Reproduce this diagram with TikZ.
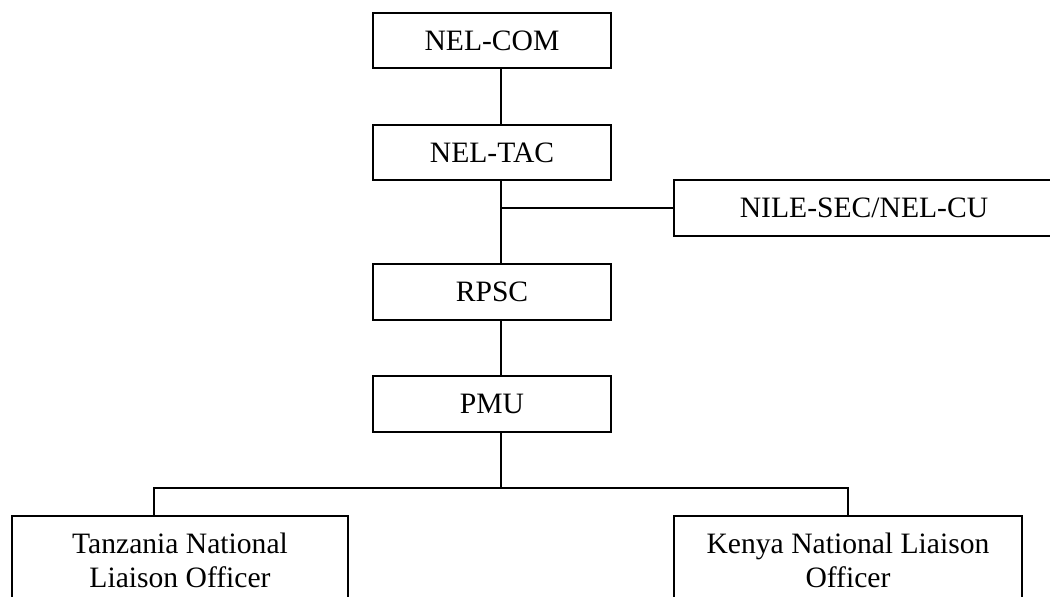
\documentclass[tikz,border=0pt]{standalone}
\usepackage{fontspec}
\setmainfont{Liberation Serif}
\begin{document}
\begin{tikzpicture}[x=1pt,y=-1pt,
  ln/.style={line width=1.7pt, black},
  box/.style={draw, ln, rectangle, inner sep=0pt, font=\fontsize{29.6}{34}\selectfont, align=center},
  mid/.style={box, minimum width=238pt, minimum height=55pt}]
\clip (0,0) rectangle (1050,597);
\fill[white] (0,0) rectangle (1050,597);
\node[mid] (com) at (492,40.5) {NEL-COM};
\node[mid] (tac) at (492,152.5) {NEL-TAC};
\node[box, minimum width=380pt, minimum height=56pt] (sec) at (864,208) {NILE-SEC/NEL-CU};
\node[mid, minimum height=56pt] (rpsc) at (492,292) {RPSC};
\node[mid, minimum height=56pt] (pmu) at (492,404) {PMU};
\node[box, minimum width=336pt, minimum height=88pt] (tz) at (180,560) {Tanzania National\\Liaison Officer};
\node[box, minimum width=348pt, minimum height=88pt] (ke) at (848,560) {Kenya National Liaison\\Officer};
\coordinate (bus) at (501,488);
\coordinate (spine) at ([xshift=9pt]tac.south);
\draw[ln] ([xshift=9pt]com.south) -- ([xshift=9pt]tac.north);
\draw[ln] (spine) -- ([xshift=9pt]rpsc.north);
\draw[ln] (sec.west) -- (sec.west -| spine);
\draw[ln] ([xshift=9pt]rpsc.south) -- ([xshift=9pt]pmu.north);
\draw[ln] ([xshift=9pt]pmu.south) -- (bus);
\draw[ln] ([xshift=-26pt]tz.north) |- (bus) -| (ke.north);
\end{tikzpicture}
\end{document}
